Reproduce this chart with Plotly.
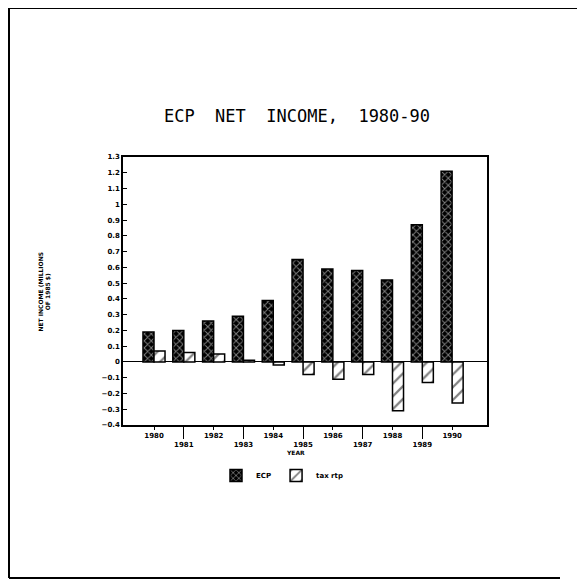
import plotly.graph_objects as go

# %%
years = ["1980", "1981", "1982", "1983", "1984", "1985",
         "1986", "1987", "1988", "1989", "1990"]
ecp_income = [0.19, 0.20, 0.26, 0.29, 0.39, 0.65, 0.59, 0.58, 0.52, 0.87, 1.21]
tax_income = [0.07, 0.06, 0.05, 0.01, -0.02, -0.08, -0.11, -0.08, -0.31, -0.13, -0.26]
legend_names = ["ECP", "tax rtp"]
y_ticks = [-0.4, -0.3, -0.2, -0.1, 0, 0.1, 0.2, 0.3, 0.4, 0.5, 0.6, 0.7,
           0.8, 0.9, 1, 1.1, 1.2, 1.3]

x_pos = list(range(len(years)))
upper_ticks = x_pos[0::2]
lower_ticks = x_pos[1::2]

# %%
# page has an 8px body margin, so the figure coords below are page coords - 8
W, H = 585, 581
L, R, T, B = 115, 479, 149, 417
pw, ph = R - L, B - T


def px(x):
    return (x - L) / pw


def py(y):
    return (B - y) / ph


tick_font = dict(family="DejaVu Sans", size=7, color="black", weight="bold")
x_range = [-1.04, 11.17]

fig = go.Figure()

fig.add_trace(
    go.Bar(
        x=x_pos,
        y=ecp_income,
        name=legend_names[0],
        marker=dict(
            color="black",
            line=dict(color="black", width=1.5),
            pattern=dict(shape="x", fgcolor="white", bgcolor="black",
                         size=5, solidity=0.35),
        ),
    )
)
fig.add_trace(
    go.Bar(
        x=x_pos,
        y=tax_income,
        name=legend_names[1],
        marker=dict(
            color="white",
            line=dict(color="black", width=1.5),
            pattern=dict(shape="/", fgcolor="black", bgcolor="white",
                         size=9, solidity=0.25),
        ),
    )
)
# dummy trace so the second (long-tick) x axis is drawn
fig.add_trace(
    go.Scatter(x=[0], y=[0], xaxis="x2", mode="markers",
               marker=dict(opacity=0), showlegend=False, hoverinfo="skip")
)

fig.update_layout(
    width=W,
    height=H,
    margin=dict(l=L, r=W - R, t=T, b=H - B),
    paper_bgcolor="white",
    plot_bgcolor="white",
    barmode="group",
    bargap=0.26,
    bargroupgap=0,
    showlegend=True,
    title=dict(
        text="ECP  NET  INCOME,  1980-90",
        x=289 / W,
        xanchor="center",
        y=1 - 108 / H,
        yanchor="middle",
        font=dict(family="DejaVu Sans Mono", size=17, color="black"),
    ),
    legend=dict(
        orientation="h",
        x=px(208),
        y=py(453),
        xanchor="left",
        yanchor="top",
        font=dict(family="DejaVu Sans", size=7, color="black", weight="bold"),
        itemwidth=30,
        bgcolor="rgba(0,0,0,0)",
    ),
    xaxis=dict(
        range=x_range,
        tickvals=upper_ticks,
        ticktext=[years[i] for i in upper_ticks],
        ticks="outside",
        ticklen=3,
        tickcolor="black",
        tickfont=tick_font,
        showline=True,
        linecolor="black",
        linewidth=1.5,
        mirror=True,
        showgrid=False,
        zeroline=False,
    ),
    xaxis2=dict(
        range=x_range,
        overlaying="x",
        anchor="y",
        side="bottom",
        tickvals=lower_ticks,
        ticktext=[years[i] for i in lower_ticks],
        ticks="outside",
        ticklen=13,
        tickcolor="black",
        tickfont=tick_font,
        showline=False,
        showgrid=False,
        zeroline=False,
    ),
    yaxis=dict(
        range=[-0.4, 1.3],
        tickvals=y_ticks,
        ticks="inside",
        ticklen=4,
        tickcolor="black",
        tickfont=tick_font,
        showline=True,
        linecolor="black",
        linewidth=1.5,
        mirror=True,
        showgrid=False,
        zeroline=True,
        zerolinecolor="black",
        zerolinewidth=1,
    ),
)

# axis titles
fig.add_annotation(
    text="YEAR",
    xref="paper", yref="paper",
    x=px(287), y=py(450),
    showarrow=False,
    font=dict(family="DejaVu Sans", size=6, color="black", weight="bold"),
)
fig.add_annotation(
    text="NET INCOME (MILLIONS<br>OF 1985 $)",
    xref="paper", yref="paper",
    x=px(26), y=py(284),
    textangle=-90,
    showarrow=False,
    font=dict(family="DejaVu Sans", size=6, color="black", weight="bold"),
)

# outer page frame
frame = dict(type="line", xref="paper", yref="paper",
             line=dict(color="black", width=2))
fig.add_shape(**frame, x0=px(1), x1=px(1), y0=py(570), y1=py(0))
fig.add_shape(**frame, x0=px(1), x1=px(W), y0=py(0), y1=py(0))
fig.add_shape(**frame, x0=px(1), x1=px(552), y0=py(570), y1=py(570))

fig.write_html("out.html")
